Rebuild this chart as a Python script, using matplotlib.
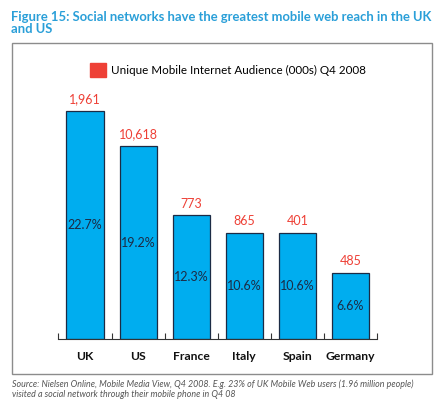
import matplotlib.pyplot as plt
from matplotlib.patches import Patch, Rectangle

# data
countries = ['UK', 'US', 'France', 'Italy', 'Spain', 'Germany']
reach_pct = [22.7, 19.2, 12.3, 10.6, 10.6, 6.6]
audience = ['1,961', '10,618', '773', '865', '401', '485']

blue = '#00adef'
red = '#ee4036'
title_blue = '#2a9fd8'

plt.rcParams['font.family'] = ['Lato', 'DejaVu Sans']

fig = plt.figure(figsize=(4.43, 4.07), dpi=100)

# outer grey frame
fig.patches.append(Rectangle((12 / 443, 1 - 374 / 407), 420 / 443, 331 / 407,
                             transform=fig.transFigure, fill=False,
                             edgecolor='#8c8c8c', linewidth=1))

fig.text(11 / 443, 1 - 11 / 407,
         'Figure 15: Social networks have the greatest mobile web reach in the UK\nand US',
         color=title_blue, fontsize=9.4, fontweight='bold', va='top', ha='left',
         linespacing=1.0)

ax = fig.add_axes([58.5 / 443, 1 - 339 / 407, 318.5 / 443, 239 / 407])
x = range(len(countries))
ax.bar(x, reach_pct, width=0.7, color=blue, edgecolor='#1c2b45', linewidth=0.9)
ax.set_xlim(-0.5, 5.5)
ax.set_ylim(0, 23.8)

for i, (p, a) in enumerate(zip(reach_pct, audience)):
    ax.text(i, p / 2, f'{p}%', ha='center', va='center', fontsize=9, color='#1c2b45')
    ax.annotate(a, (i, p), xytext=(0, 4), textcoords='offset points',
                ha='center', va='bottom', fontsize=9, color=red)

# category labels, ticks at the boundaries pointing up
ax.set_xticks([i + 0.5 for i in range(-1, 6)])
ax.set_xticklabels([])
ax.tick_params(axis='x', direction='in', length=4, width=0.8, color='#333333')
for i, c in enumerate(countries):
    ax.text(i, -0.05, c, transform=ax.get_xaxis_transform(), ha='center', va='top',
            fontsize=8.7, fontweight='bold', color='#111111')
ax.set_yticks([])
for s in ['left', 'right', 'top']:
    ax.spines[s].set_visible(False)
ax.spines['bottom'].set_color('#333333')
ax.spines['bottom'].set_linewidth(0.8)

fig.legend(handles=[Patch(color=red)], labels=['Unique Mobile Internet Audience (000s) Q4 2008'],
           loc='center', bbox_to_anchor=(228 / 443, 1 - 70 / 407), frameon=False,
           fontsize=8.4, handlelength=1.4, handleheight=1.4, handletextpad=0.4)

fig.text(12 / 443, 1 - 379 / 407,
         'Source: Nielsen Online, Mobile Media View, Q4 2008. E.g. 23% of UK Mobile Web users (1.96 million people)\n'
         'visited a social network through their mobile phone in Q4 08',
         fontsize=6.4, style='italic', color='#555555', va='top', ha='left', linespacing=1.25)

fig.savefig('out.png', dpi=100)
